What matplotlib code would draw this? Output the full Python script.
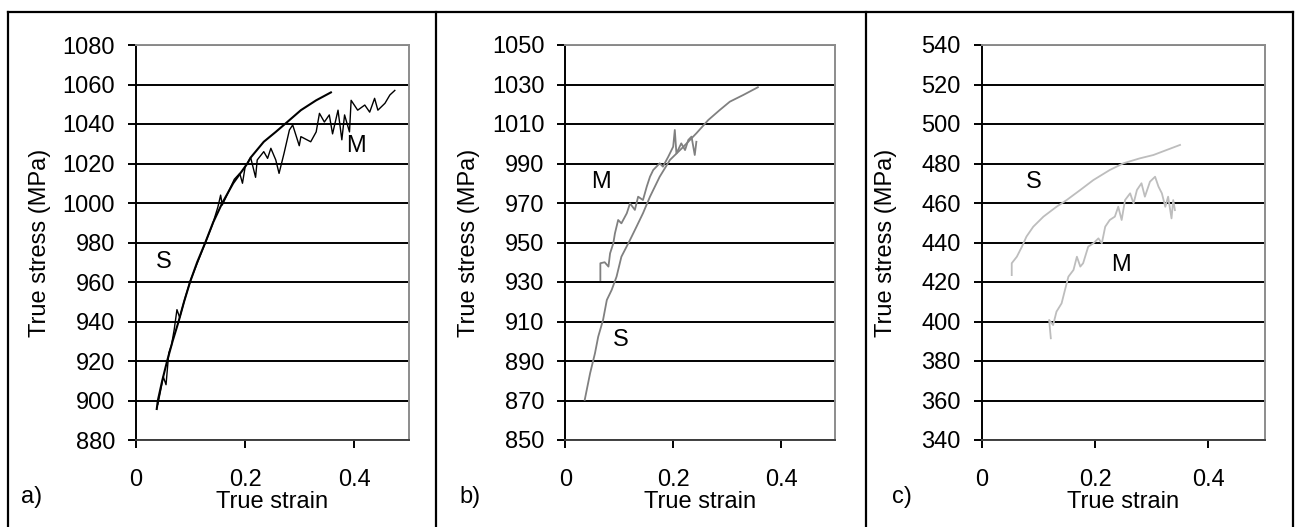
import matplotlib.pyplot as plt
from matplotlib.lines import Line2D

plt.rcParams['font.family'] = ['Liberation Sans', 'DejaVu Sans']

# panel a) data
a_s_strain = [0.038, 0.040, 0.048, 0.057, 0.067, 0.078, 0.088, 0.099, 0.112, 0.127, 0.141,
              0.158, 0.178, 0.204, 0.210, 0.234, 0.256, 0.277, 0.302, 0.330, 0.357]
a_s_stress = [895.7, 900, 910, 920, 930, 940, 950, 960, 970, 980, 990,
              1000, 1010, 1020, 1023, 1031, 1036, 1041, 1047, 1052, 1056]
a_m_strain = [0.040, 0.050, 0.055, 0.060, 0.065, 0.070, 0.075, 0.080, 0.090, 0.100, 0.120,
              0.140, 0.150, 0.155, 0.158, 0.170, 0.180, 0.190, 0.195, 0.200, 0.210,
              0.219, 0.222, 0.234, 0.241, 0.247, 0.256, 0.262, 0.271, 0.281, 0.287,
              0.299, 0.302, 0.320, 0.330, 0.336, 0.345, 0.354, 0.360, 0.370, 0.377,
              0.382, 0.391, 0.394, 0.406, 0.419, 0.428, 0.437, 0.443, 0.456, 0.465, 0.474]
a_m_stress = [898, 912, 908, 924, 928, 936, 946, 942, 952, 961, 975,
              989, 998, 1004, 999, 1006, 1012, 1015, 1010, 1018.4, 1023,
              1013, 1021.8, 1026, 1022.6, 1027.7, 1021.8, 1015, 1025, 1037, 1039.5,
              1029, 1033.6, 1031, 1036, 1045.4, 1041, 1044.6, 1035, 1047, 1032,
              1044.6, 1036, 1052, 1047, 1049.6, 1046, 1053, 1047, 1050.5, 1054.7, 1057]

# panel b) data
b_s_strain = [0.036, 0.046, 0.055, 0.061, 0.070, 0.077, 0.086, 0.095, 0.104, 0.120, 0.132,
              0.144, 0.157, 0.175, 0.194, 0.219, 0.243, 0.265, 0.286, 0.305, 0.330, 0.357]
b_s_stress = [870.3, 883.8, 893.9, 902.3, 910.8, 920.9, 926, 932.7, 942.8, 951.3, 958,
              964.8, 973.2, 983.3, 991.8, 998.5, 1005.3, 1012, 1017, 1021.3, 1024.7, 1028.6]
b_m_strain = [0.065, 0.065, 0.073, 0.080, 0.083, 0.089, 0.092, 0.098, 0.104, 0.114, 0.120,
              0.129, 0.135, 0.144, 0.151, 0.157, 0.163, 0.175, 0.181, 0.191, 0.200,
              0.203, 0.206, 0.215, 0.222, 0.228, 0.234, 0.240, 0.243]
b_m_stress = [931, 939.5, 940, 937.8, 944.5, 949.6, 954.6, 961.4, 959.7, 964.8, 969.8,
              966.5, 973.2, 971.5, 978.3, 983.3, 986.7, 990.1, 988.4, 993.5, 998.5,
              1007, 995.1, 1000.2, 996.8, 1001.9, 1003.6, 994.3, 1001]

# panel c) data
c_s_strain = [0.053, 0.053, 0.062, 0.071, 0.079, 0.091, 0.109, 0.132, 0.150, 0.174, 0.197,
              0.226, 0.250, 0.279, 0.303, 0.326, 0.350]
c_s_stress = [423.5, 429.5, 432.8, 437.9, 443, 448, 453.1, 458.1, 461.5, 466.6, 471.6,
              476.7, 480.1, 482.6, 484.3, 486.8, 489.4]
c_m_strain = [0.122, 0.119, 0.126, 0.132, 0.141, 0.147, 0.153, 0.162, 0.168, 0.174, 0.179,
              0.188, 0.197, 0.206, 0.212, 0.218, 0.226, 0.235, 0.241, 0.247, 0.253,
              0.262, 0.268, 0.274, 0.282, 0.288, 0.297, 0.306, 0.312, 0.318, 0.324,
              0.329, 0.335, 0.338, 0.341]
c_m_stress = [391.5, 400.8, 398.2, 405, 409.2, 416, 422.7, 426.1, 432.8, 427.8, 429.5,
              437.9, 439.6, 442.1, 439.6, 448, 451.4, 453.1, 458.1, 451.4, 461.5,
              464.9, 459.8, 466.6, 470, 463.2, 470.8, 473.3, 468.3, 464.9, 458.1,
              463.2, 452.2, 461.5, 456.4]

x_ticks = [0, 0.2, 0.4]
x_tick_labels = ['0', '0.2', '0.4']
a_y_ticks = list(range(880, 1081, 20))
b_y_ticks = list(range(850, 1051, 20))
c_y_ticks = list(range(340, 541, 20))

W, H = 1298, 527
fig = plt.figure(figsize=(W / 100, H / 100), dpi=100)

# axes boxes in pixels: left, right
boxes = [(136, 409), (565.3, 835), (981.7, 1265)]
top, bottom = 45, 440

panels = [
    ('a)', a_y_ticks, 'black', 1.5, 1.0,
     (a_s_strain, a_s_stress), (a_m_strain, a_m_stress), (0.05, 970), (0.403, 1029)),
    ('b)', b_y_ticks, '#808080', 1.3, 1.3,
     (b_s_strain, b_s_stress), (b_m_strain, b_m_stress), (0.103, 900.6), (0.067, 980.8)),
    ('c)', c_y_ticks, '#bdbdbd', 1.3, 1.3,
     (c_s_strain, c_s_stress), (c_m_strain, c_m_stress), (0.092, 470.8), (0.246, 428.6)),
]
label_x = [32, 470, 902]

for i, (tag, yt, col, lw_s, lw_m, s_data, m_data, s_pos, m_pos) in enumerate(panels):
    left, right = boxes[i]
    ax = fig.add_axes([left / W, (H - bottom) / H, (right - left) / W, (bottom - top) / H])
    ax.set_xlim(0, 0.5)
    ax.set_ylim(yt[0], yt[-1])
    ax.set_yticks(yt)
    ax.set_xticks(x_ticks)
    ax.set_xticklabels(x_tick_labels)
    ax.yaxis.grid(True, color='black', linewidth=1.4)
    ax.set_axisbelow(True)

    ax.plot(m_data[0], m_data[1], color=col, linewidth=lw_m)
    ax.plot(s_data[0], s_data[1], color=col, linewidth=lw_s)
    ax.text(s_pos[0], s_pos[1], 'S', fontsize=17, ha='center', va='center')
    ax.text(m_pos[0], m_pos[1], 'M', fontsize=17, ha='center', va='center')

    # excel-like frame: black axis lines, grey plot border
    ax.spines['left'].set_color('black')
    ax.spines['left'].set_linewidth(1.4)
    ax.spines['bottom'].set_color('#404040')
    ax.spines['bottom'].set_linewidth(1.4)
    for side in ['top', 'right']:
        ax.spines[side].set_color('#8c8c8c')
        ax.spines[side].set_linewidth(1.4)
    ax.tick_params(axis='both', direction='out', length=6, width=1.4, color='black',
                   labelsize=17)
    ax.tick_params(axis='y', pad=9)
    ax.tick_params(axis='x', pad=15)

    ax.text(-96 / (right - left), 0.5, 'True stress (MPa)', transform=ax.transAxes,
            rotation=90, fontsize=17, ha='center', va='center')
    ax.text(0.5, -62 / (bottom - top), 'True strain', transform=ax.transAxes,
            fontsize=17, ha='center', va='center')
    fig.text(label_x[i] / W, 1 - 497 / H, tag, fontsize=17, ha='center', va='center')

# outer panel borders
def px_line(x0, y0, x1, y1):
    fig.add_artist(Line2D([x0 / W, x1 / W], [1 - y0 / H, 1 - y1 / H],
                          color='black', linewidth=1.6, transform=fig.transFigure))

px_line(8, 12, 1293, 12)
for xv in [8, 436.5, 866, 1293]:
    px_line(xv, 12, xv, H)

fig.savefig('out.png', dpi=100)
